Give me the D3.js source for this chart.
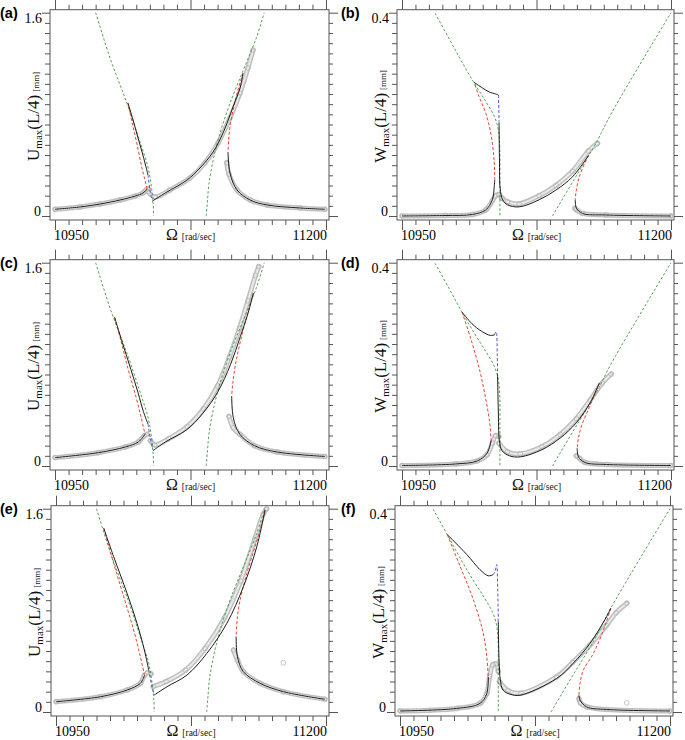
<!DOCTYPE html>
<html><head><meta charset="utf-8">
<script src="https://cdn.jsdelivr.net/npm/d3@7"></script>
<style>body{margin:0;background:#fff}svg{display:block}</style>
</head><body>
<svg id="chart" width="685" height="740"></svg>
<script>
// ---------------- DATA (Ω [rad/s], amplitude [mm]) ----------------
const xTickLabels = ["10950", "11200"];
const uTickLabels = ["0", "1.6"];
const wTickLabels = ["0", "0.4"];

// backbone curves (green dashed)
const backboneLeftU  = [[10987.5,1.6],[11001.5,1.225],[11016.5,0.885],[11028.1,0.592],[11035.8,0.383],[11039,0.226],[11040.5,0.1],[11041,0]];
const backboneRightU = [[11089.5,0],[11090.5,0.1],[11092,0.25],[11095.8,0.435],[11102,0.645],[11111.2,0.881],[11123.5,1.144],[11135.9,1.406],[11143,1.6]];
const backboneLeftW  = [[10980.7,0.399],[10993.8,0.349],[11004.6,0.307],[11017,0.262],[11028,0.225],[11036,0.195],[11039.5,0.17],[11040.8,0.14],[11041,0.07],[11041,0]];
const backboneRightW = [[11089.8,0],[11110,0.072],[11130.2,0.143],[11145.1,0.204],[11200,0.4]];

// (a)
const aLowerLeft  = [[10950,0.053],[10973,0.071],[10991.5,0.094],[11010,0.126],[11023.8,0.157],[11031.2,0.181],[11034.9,0.212]];
const aRedLeft    = [[11017.3,0.889],[11021,0.740],[11025.4,0.575],[11030,0.386],[11033,0.283],[11034.9,0.212]];
const aUpperLeft  = [[11017.3,0.889],[11022,0.756],[11026.6,0.614],[11030.3,0.504],[11033.5,0.401],[11035.8,0.323]];
const aBlue       = [[11035.8,0.323],[11037.6,0.205],[11039.5,0.126]];
const aMiddle     = [[11039.5,0.115],[11044,0.14],[11053.3,0.189],[11071.8,0.283],[11083.8,0.378],[11095.8,0.504],[11105,0.653],[11114.2,0.858],[11120.7,1.007],[11123.4,1.123]];
const aRedRight   = [[11123.4,1.123],[11118.8,0.992],[11114.2,0.834],[11111.4,0.700],[11110.2,0.598],[11109.6,0.504]];
const aLowerRight = [[11109.6,0.504],[11111.4,0.338],[11117.9,0.205],[11129.9,0.126],[11145.6,0.087],[11176,0.063],[11199,0.053]];
const aGreyLeft   = [[10950,0.053],[10973,0.071],[10991.5,0.094],[11010,0.126],[11023.8,0.157],[11031.2,0.181],[11034,0.205],[11036,0.215]];
const aGreyMid    = [[11036,0.19],[11042.2,0.150],[11056.1,0.205],[11074.5,0.299],[11088.3,0.417],[11100.4,0.574],[11111.4,0.771],[11120.7,0.968],[11128,1.165],[11132.7,1.306]];
const aGreyRight  = [[11108.4,0.42],[11110.5,0.33],[11117.9,0.205],[11129.9,0.126],[11145.6,0.087],[11176,0.063],[11199,0.053]];
const aStray      = [];

// (b)
const bLowerLeft  = [[10950,0],[10990,0.001],[11015.4,0.003],[11027.9,0.012],[11034,0.032],[11035.6,0.055],[11036.2,0.071]];
const bRedLeft    = [[11036.2,0.071],[11035.6,0.110],[11032.5,0.163],[11027.9,0.202],[11021.6,0.235],[11017,0.263]];
const bUpperLeft  = [[11017,0.263],[11024.7,0.252],[11031,0.244],[11037.2,0.240],[11039.6,0.238]];
const bBlue       = [[11039.6,0.238],[11040,0.21],[11040.2,0.183]];
const bMiddle     = [[11040.2,0.183],[11040.6,0.11],[11041.2,0.055],[11043.5,0.032],[11048,0.022],[11058.9,0.018],[11077.5,0.032],[11093,0.051],[11108.4,0.077],[11123.3,0.119]];
const bRedRight   = [[11123.3,0.119],[11114.7,0.077],[11111.6,0.045],[11111,0.032]];
const bLowerRight = [[11111,0.032],[11112.2,0.015],[11117.8,0.005],[11139.5,0.002],[11200,0]];
const bGreyLeft   = [[10950,0],[10990,0.001],[11015.4,0.003],[11027.9,0.012],[11034,0.03],[11037,0.04],[11040,0.042],[11043,0.035]];
const bGreyMid    = [[11043,0.035],[11048,0.028],[11058.9,0.024],[11077.5,0.04],[11093,0.06],[11108.4,0.088],[11123.3,0.128],[11131.7,0.143]];
const bGreyRight  = [[11110.6,0.015],[11112.2,0.012],[11117.8,0.005],[11139.5,0.002],[11200,0]];
const bStray      = [];

// (c)
const cLowerLeft  = [[10950,0.066],[10990,0.105],[11015,0.15],[11027,0.19],[11033,0.25]];
const cRedLeft    = [[11005,1.17],[11011,0.98],[11017.5,0.76],[11024.5,0.55],[11029.5,0.38],[11033,0.25]];
const cUpperLeft  = [[11005,1.17],[11012.5,0.96],[11020,0.76],[11026.5,0.58],[11031.5,0.43],[11035.8,0.33]];
const cBlue       = [[11035.8,0.33],[11038.3,0.2],[11040.3,0.13]];
const cMiddle     = [[11040.3,0.12],[11052,0.19],[11071.5,0.285],[11086,0.41],[11100,0.58],[11112,0.8],[11121,1.02],[11128,1.2],[11133,1.36]];
const cRedRight   = [[11133,1.36],[11127,1.18],[11121,0.98],[11116.5,0.8],[11114,0.65],[11113,0.55]];
const cLowerRight = [[11113,0.55],[11114.5,0.38],[11120.5,0.25],[11134,0.16],[11155,0.11],[11199,0.075]];
const cGreyLeft   = [[10950,0.066],[10990,0.105],[11015,0.15],[11027,0.19],[11032,0.235],[11035,0.25]];
const cGreyMid    = [[11038,0.2],[11042,0.165],[11055,0.215],[11072,0.31],[11087,0.45],[11100,0.63],[11111,0.86],[11120,1.08],[11128,1.3],[11135,1.5],[11138,1.57]];
const cGreyRight  = [[11110.5,0.39],[11114.5,0.3],[11120.5,0.25],[11134,0.16],[11155,0.11],[11199,0.075]];
const cStray      = [];

// (d)
const dLowerLeft  = [[10950,0.001],[11000,0.004],[11020,0.01],[11029,0.025],[11032.8,0.05]];
const dRedLeft    = [[11005.8,0.303],[11014,0.25],[11022,0.19],[11028,0.13],[11031.5,0.085],[11032.8,0.05]];
const dUpperLeft  = [[11005.8,0.303],[11015,0.28],[11024,0.265],[11032,0.257],[11036,0.258]];
const dBlue       = [[11036,0.258],[11037.5,0.264],[11038.5,0.22],[11038.8,0.181]];
const dMiddle     = [[11038.8,0.181],[11039.5,0.11],[11040.5,0.05],[11043,0.03],[11050,0.02],[11060,0.018],[11080,0.032],[11097,0.055],[11112,0.085],[11125,0.125],[11133.3,0.163]];
const dRedRight   = [[11133.3,0.163],[11125,0.12],[11117,0.08],[11114,0.055],[11112.8,0.035]];
const dLowerRight = [[11112.8,0.035],[11114,0.018],[11120,0.007],[11140,0.003],[11200,0.001]];
const dGreyLeft   = [[10950,0.001],[11000,0.004],[11020,0.01],[11029,0.022],[11034,0.045],[11037,0.06],[11040,0.058]];
const dGreyMid    = [[11040,0.045],[11048,0.028],[11060,0.024],[11080,0.038],[11097,0.062],[11112,0.093],[11125,0.13],[11136,0.163],[11144.5,0.181]];
const dGreyRight  = [[11112,0.02],[11115,0.015],[11120,0.007],[11140,0.003],[11200,0.001]];
const dStray      = [];

// (e)
const eLowerLeft  = [[10950,0.081],[10991.1,0.120],[11015.8,0.173],[11028.1,0.226],[11032,0.29]];
const eRedLeft    = [[10994.2,1.446],[11003.4,1.170],[11012.7,0.907],[11021.9,0.645],[11028.1,0.435],[11032,0.29]];
const eUpperLeft  = [[10994.2,1.446],[11003.4,1.222],[11015.8,0.934],[11025,0.698],[11031.8,0.488],[11035.8,0.331]];
const eBlue       = [[11035.8,0.331],[11038.9,0.199],[11041,0.134]];
const eMiddle     = [[11041,0.134],[11052.8,0.199],[11071.3,0.291],[11089.7,0.462],[11108.2,0.698],[11123.5,0.986],[11135.9,1.301],[11143.6,1.590]];
const eRedRight   = [[11143.6,1.590],[11139,1.432],[11126.7,1.092],[11120.5,0.881],[11118,0.750],[11116.8,0.593]];
const eLowerRight = [[11116.8,0.593],[11118,0.435],[11123.5,0.317],[11139,0.226],[11160.5,0.160],[11199,0.100]];
const eGreyLeft   = [[10950,0.081],[10991.1,0.120],[11015.8,0.173],[11028.1,0.226],[11032,0.29],[11035,0.31],[11038,0.3]];
const eGreyMid    = [[11040,0.2],[11052,0.24],[11070,0.33],[11088,0.5],[11106,0.74],[11121,1.03],[11134,1.36],[11142,1.56],[11145,1.6]];
const eGreyRight  = [[11114.3,0.488],[11118,0.41],[11123.5,0.317],[11139,0.226],[11160.5,0.160],[11199,0.100]];
const eStray      = [[11160.5,0.388]];

// (f)
const fLowerLeft  = [[10950,0.002],[11002.5,0.007],[11024.1,0.017],[11030.3,0.036],[11031.8,0.069]];
const fRedLeft    = [[10993.8,0.349],[11005.6,0.287],[11017.9,0.221],[11027.1,0.155],[11030.3,0.109],[11031.8,0.069]];
const fUpperLeft  = [[10993.8,0.349],[11011.8,0.310],[11024.1,0.280],[11031.8,0.268],[11036.1,0.270]];
const fBlue       = [[11036.1,0.270],[11038,0.276],[11039.5,0.290],[11040.5,0.24],[11041,0.178]];
const fMiddle     = [[11041,0.178],[11041.7,0.102],[11042.9,0.063],[11045.4,0.043],[11051.9,0.035],[11061.1,0.033],[11095,0.066],[11110.4,0.096],[11125.9,0.135],[11141.4,0.188],[11145.1,0.204]];
const fRedRight   = [[11145.1,0.204],[11138.3,0.161],[11129,0.115],[11119.7,0.082],[11116.7,0.056],[11115.7,0.033]];
const fLowerRight = [[11115.7,0.033],[11116.7,0.023],[11122.9,0.010],[11141.4,0.005],[11200,0.002]];
const fGreyLeft   = [[10950,0.002],[11002.5,0.007],[11024.1,0.017],[11030.3,0.036],[11033,0.07],[11036,0.093],[11039,0.095],[11041,0.08]];
const fGreyMid    = [[11042,0.06],[11050,0.042],[11062,0.037],[11095,0.069],[11110,0.098],[11126,0.132],[11141,0.17],[11150,0.195],[11160,0.214]];
const fGreyRight  = [[11115.7,0.026],[11117,0.018],[11122.9,0.010],[11141.4,0.005],[11200,0.002]];
const fStray      = [[11159.9,0.018]];

// ---------------- LAYOUT ----------------
const panels = [
  {tag:"(a)", kind:"U", x0:55,  x1:326, row:0, lowerLeft:aLowerLeft, redLeft:aRedLeft, upperLeft:aUpperLeft, blue:aBlue, middle:aMiddle, redRight:aRedRight, lowerRight:aLowerRight, greyLeft:aGreyLeft, greyMid:aGreyMid, greyRight:aGreyRight, stray:aStray},
  {tag:"(b)", kind:"W", x0:402, x1:671, row:0, lowerLeft:bLowerLeft, redLeft:bRedLeft, upperLeft:bUpperLeft, blue:bBlue, middle:bMiddle, redRight:bRedRight, lowerRight:bLowerRight, greyLeft:bGreyLeft, greyMid:bGreyMid, greyRight:bGreyRight, stray:bStray},
  {tag:"(c)", kind:"U", x0:55,  x1:326, row:1, lowerLeft:cLowerLeft, redLeft:cRedLeft, upperLeft:cUpperLeft, blue:cBlue, middle:cMiddle, redRight:cRedRight, lowerRight:cLowerRight, greyLeft:cGreyLeft, greyMid:cGreyMid, greyRight:cGreyRight, stray:cStray},
  {tag:"(d)", kind:"W", x0:402, x1:671, row:1, lowerLeft:dLowerLeft, redLeft:dRedLeft, upperLeft:dUpperLeft, blue:dBlue, middle:dMiddle, redRight:dRedRight, lowerRight:dLowerRight, greyLeft:dGreyLeft, greyMid:dGreyMid, greyRight:dGreyRight, stray:dStray},
  {tag:"(e)", kind:"U", x0:56,  x1:326, row:2, lowerLeft:eLowerLeft, redLeft:eRedLeft, upperLeft:eUpperLeft, blue:eBlue, middle:eMiddle, redRight:eRedRight, lowerRight:eLowerRight, greyLeft:eGreyLeft, greyMid:eGreyMid, greyRight:eGreyRight, stray:eStray},
  {tag:"(f)", kind:"W", x0:400, x1:670, row:2, lowerLeft:fLowerLeft, redLeft:fRedLeft, upperLeft:fUpperLeft, blue:fBlue, middle:fMiddle, redRight:fRedRight, lowerRight:fLowerRight, greyLeft:fGreyLeft, greyMid:fGreyMid, greyRight:fGreyRight, stray:fStray}
];
const rowOffset = [0, 250, 496];

const svg = d3.select("#chart");
const SERIF = "'Liberation Serif','Times New Roman',serif";
const SANS = "'Liberation Sans',Arial,sans-serif";
const AX = "#555";

panels.forEach((p, i) => {
  const off = rowOffset[p.row];
  const ymax = p.kind === "U" ? 1.6 : 0.4;
  const y0 = 216 + off, y1 = 12.7 + off;
  const x = d3.scaleLinear().domain([10950, 11200]).range([p.x0, p.x1]);
  const y = d3.scaleLinear().domain([0, ymax]).range([y0, y1]);
  const fx0 = p.x0 - 5, fx1 = p.x1 + 3, fy0 = y1 - 3, fy1 = y0 + 4;
  const g = svg.append("g");

  // clip
  const cid = "clip" + i;
  svg.append("clipPath").attr("id", cid).append("rect")
    .attr("x", fx0).attr("y", fy0).attr("width", fx1 - fx0).attr("height", fy1 - fy0);

  // frame
  g.append("rect").attr("x", fx0).attr("y", fy0).attr("width", fx1 - fx0).attr("height", fy1 - fy0)
    .attr("fill", "none").attr("stroke", AX).attr("stroke-width", 1);

  const xTicks = d3.range(0, 21).map(k => 10950 + k * 12.5);
  const yTicks = d3.range(0, 21).map(k => k * ymax / 20);
  const xMajor = v => (v === 10950 || v === 11075 || v === 11200);
  const yMajor = v => (v === 0 || Math.abs(v - ymax) < 1e-9);

  function styleAxis(sel, majorFn, minorLen, majorLen, dir) {
    sel.select(".domain").remove();
    sel.selectAll(".tick line").attr("stroke", AX).attr("stroke-width", 1)
      .each(function(d) {
        const L = majorFn(d) ? majorLen : minorLen;
        const el = d3.select(this);
        if (dir === "x") el.attr("y2", el.attr("y2") < 0 ? -L : L);
        else el.attr("x2", el.attr("x2") < 0 ? -L : L);
      });
  }
  g.append("g").attr("transform", `translate(0,${fy1})`)
    .call(d3.axisBottom(x).tickValues(xTicks).tickFormat("").tickSizeOuter(0))
    .call(s => styleAxis(s, xMajor, 5, 10, "x"));
  g.append("g").attr("transform", `translate(0,${fy0})`)
    .call(d3.axisTop(x).tickValues(xTicks).tickFormat("").tickSizeOuter(0))
    .call(s => styleAxis(s, xMajor, 5, 10, "x"));
  g.append("g").attr("transform", `translate(${fx0},0)`)
    .call(d3.axisLeft(y).tickValues(yTicks).tickFormat("").tickSizeOuter(0))
    .call(s => styleAxis(s, yMajor, 5, 8, "y"));
  g.append("g").attr("transform", `translate(${fx1},0)`)
    .call(d3.axisRight(y).tickValues(yTicks).tickFormat("").tickSizeOuter(0))
    .call(s => styleAxis(s, yMajor, 4, 9, "y"));

  // tick labels
  g.append("text").attr("x", x(10950) - 1).attr("y", fy1 + 20).attr("text-anchor", "start")
    .attr("font-family", SERIF).attr("font-size", 14).text(xTickLabels[0]);
  g.append("text").attr("x", x(11200) + 1).attr("y", fy1 + 20).attr("text-anchor", "end")
    .attr("font-family", SERIF).attr("font-size", 14).text(xTickLabels[1]);
  const yl = p.kind === "U" ? uTickLabels : wTickLabels;
  g.append("text").attr("x", fx0 - 9).attr("y", y(0)).attr("text-anchor", "end")
    .attr("font-family", SERIF).attr("font-size", 14).text(yl[0]);
  g.append("text").attr("x", fx0 - 8).attr("y", y(ymax) + 10).attr("text-anchor", "end")
    .attr("font-family", SERIF).attr("font-size", 14).text(yl[1]);

  // x axis title
  const xt = g.append("text").attr("x", (p.x0 + p.x1) / 2).attr("y", fy1 + 20)
    .attr("text-anchor", "middle").attr("font-family", SERIF).attr("fill", "#111");
  xt.append("tspan").attr("font-size", 16).text("Ω");
  xt.append("tspan").attr("font-size", 9.5).attr("dx", 4).text("[rad/sec]");

  // y axis title
  const ty = (y0 + y1) / 2 + 2;
  const yt = g.append("text").attr("transform", `translate(${fx0 - 11},${ty}) rotate(-90)`)
    .attr("text-anchor", "middle").attr("font-family", SERIF).attr("fill", "#111");
  yt.append("tspan").attr("font-size", 17).text(p.kind);
  yt.append("tspan").attr("font-size", 11).attr("dy", 3).text("max");
  yt.append("tspan").attr("font-size", 17).attr("dy", -3).text("(L/4)");
  yt.append("tspan").attr("font-size", 9).attr("dx", 3).text("[mm]");

  // panel tag
  g.append("text").attr("x", p.kind === "U" ? 0 : 341).attr("y", fy0 + 8)
    .attr("font-family", SANS).attr("font-weight", "bold").attr("font-size", 14.5).text(p.tag);

  // curves
  const line = d3.line().x(d => x(d[0])).y(d => y(d[1])).curve(d3.curveCatmullRom.alpha(0.5));
  const plot = g.append("g").attr("clip-path", `url(#${cid})`);
  const greys = [p.greyLeft, p.greyMid, p.greyRight];
  greys.forEach(s => plot.append("path").attr("d", line(s)).attr("fill", "none")
    .attr("stroke", "#bfbfbf").attr("stroke-width", 5).attr("stroke-linecap", "round").attr("stroke-linejoin", "round"));
  greys.forEach(s => plot.append("path").attr("d", line(s)).attr("fill", "none")
    .attr("stroke", "#e9e9e9").attr("stroke-width", 2).attr("stroke-linecap", "round"));
  const circ = greys.flat().concat(p.stray);
  plot.selectAll(null).data(circ).enter().append("circle")
    .attr("cx", d => x(d[0])).attr("cy", d => y(d[1])).attr("r", 2.4)
    .attr("fill", "none").attr("stroke", "#b8b8b8").attr("stroke-width", 0.8);

  const bbL = p.kind === "U" ? backboneLeftU : backboneLeftW;
  const bbR = p.kind === "U" ? backboneRightU : backboneRightW;
  [bbL, bbR].forEach(s => plot.append("path").attr("d", line(s)).attr("fill", "none")
    .attr("stroke", "#3c9a3c").attr("stroke-width", 0.9).attr("stroke-dasharray", "2.5,2"));
  [p.redLeft, p.redRight].forEach(s => plot.append("path").attr("d", line(s)).attr("fill", "none")
    .attr("stroke", "#e8432f").attr("stroke-width", 1).attr("stroke-dasharray", "3,2"));
  plot.append("path").attr("d", line(p.blue)).attr("fill", "none")
    .attr("stroke", "#5a50d8").attr("stroke-width", 1).attr("stroke-dasharray", "3,2");
  [p.lowerLeft, p.upperLeft, p.middle, p.lowerRight].forEach(s => plot.append("path").attr("d", line(s))
    .attr("fill", "none").attr("stroke", "#1c1c1c").attr("stroke-width", 1));
});
</script>
</body></html>
